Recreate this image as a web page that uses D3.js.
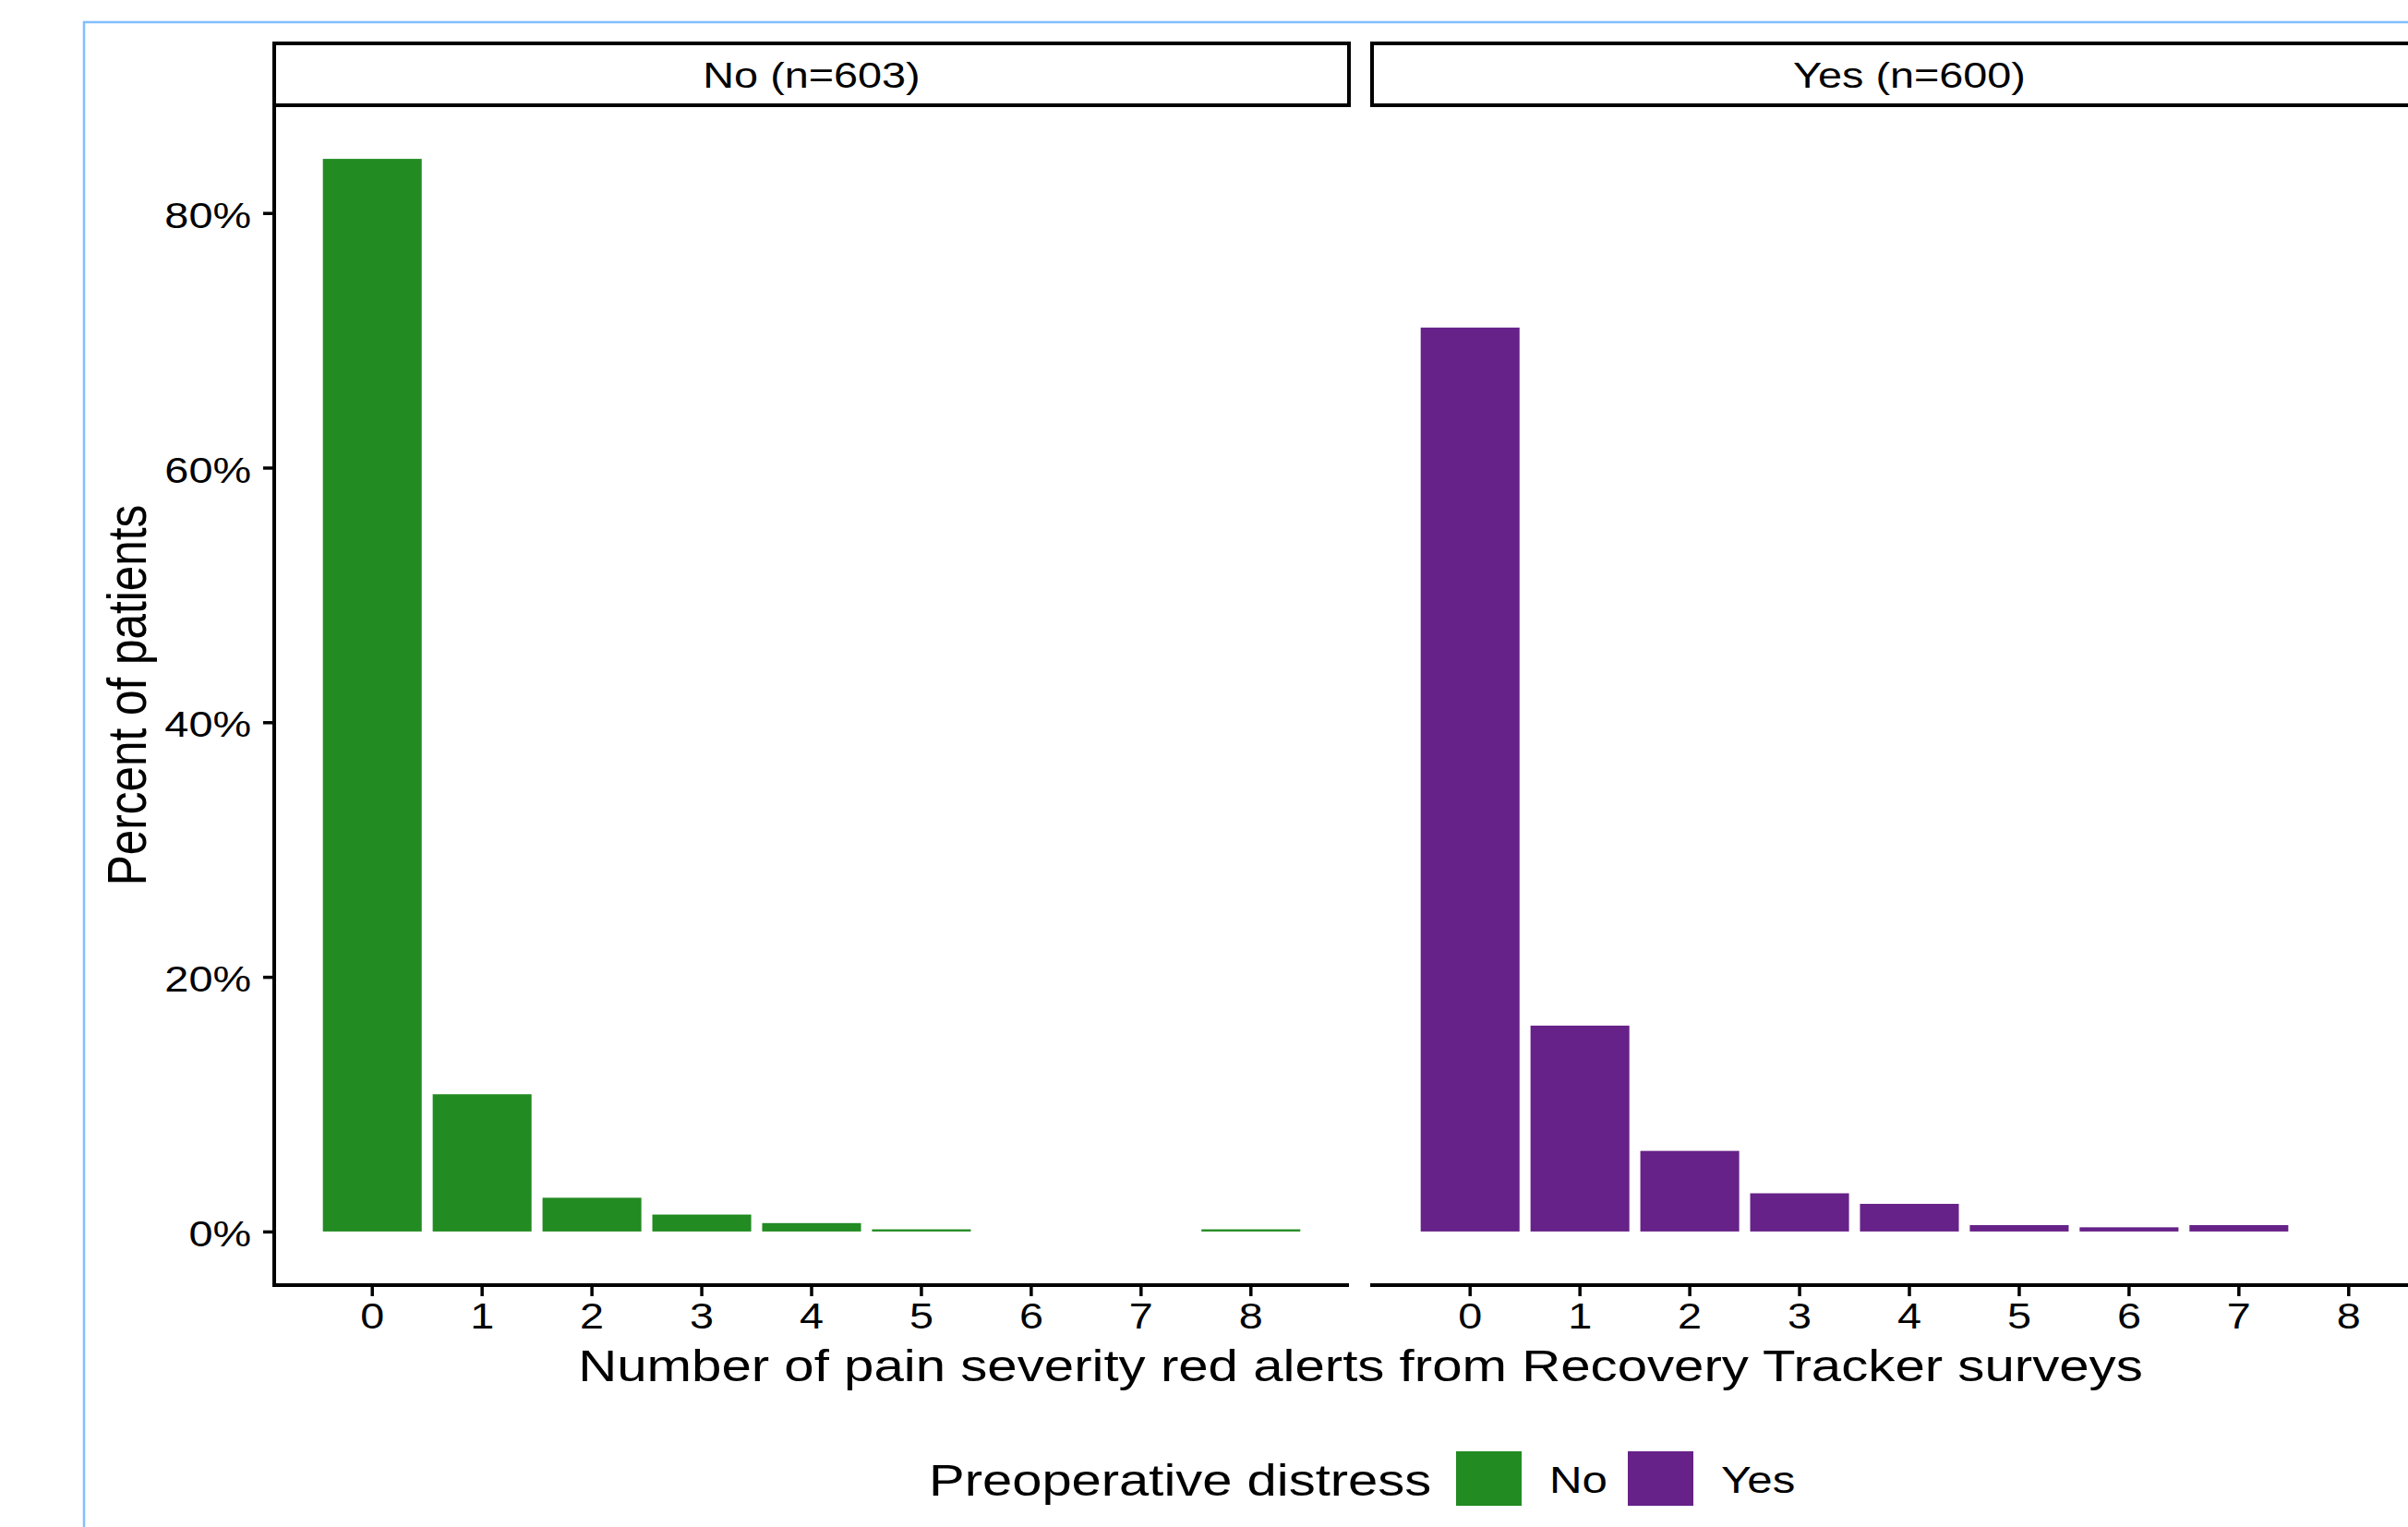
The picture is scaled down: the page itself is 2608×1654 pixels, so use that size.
<!DOCTYPE html>
<html>
<head>
<meta charset="utf-8">
<script src="https://cdn.jsdelivr.net/npm/d3@7"></script>
<style>
  body { margin: 0; background: #fff; }
  svg text { font-family: "Liberation Sans", Arial, sans-serif; fill: #000; }
</style>
</head>
<body>
<div id="chart"></div>
<script>
// data (percent of patients)
const alerts = ["0", "1", "2", "3", "4", "5", "6", "7", "8"];
const groups = ["No", "Yes"];
const stripLabels = ["No (n=603)", "Yes (n=600)"];
const pctNo = [84.25, 10.78, 2.65, 1.33, 0.66, 0.17, 0, 0, 0.17];
const pctYes = [71.0, 16.17, 6.33, 3.0, 2.17, 0.5, 0.33, 0.5, 0];
const yTicks = [0, 20, 40, 60, 80];
const colors = ["#228B22", "#662288"];

const width = 2608;
const height = 1654;
const SX = 1.2; // text in the reference is drawn a bit wide

const svg = d3.select("#chart")
    .append("svg")
    .attr("width", width)
    .attr("height", height);

svg.append("rect")
    .attr("width", width)
    .attr("height", height)
    .attr("fill", "#fff");

// light blue frame (cut off at right / bottom)
svg.append("rect")
    .attr("x", 91)
    .attr("y", 24)
    .attr("width", 4000)
    .attr("height", 4000)
    .attr("fill", "none")
    .attr("stroke", "#80bfff")
    .attr("stroke-width", 2.5);

const panelTop = 114;
const panelBottom = 1392;
const stripTop = 47;
const panelW = 1164;
const panelX = [297, 1486];

const yMax = d3.max(pctNo.concat(pctYes));
const y = d3.scaleLinear()
    .domain([-0.05 * yMax, 1.05 * yMax])
    .range([panelBottom, panelTop]);

function wideText(sel) {
    sel.each(function () {
        const t = d3.select(this);
        const x = +t.attr("x") || 0;
        t.attr("x", x / SX).attr("transform", `scale(${SX},1)`);
    });
}

const series = [pctNo, pctYes];

series.forEach((vals, i) => {
    const left = panelX[i];
    const x = d3.scaleBand()
        .domain(alerts)
        .range([left, left + panelW])
        .paddingInner(0.1)
        .paddingOuter(0.443);

    const g = svg.append("g");

    // strip
    g.append("rect")
        .attr("x", left)
        .attr("y", stripTop)
        .attr("width", panelW)
        .attr("height", panelTop - stripTop)
        .attr("fill", "#fff")
        .attr("stroke", "#000")
        .attr("stroke-width", 4);

    g.append("g")
        .attr("transform", `translate(${left + panelW / 2},95) scale(${SX},1)`)
        .append("text")
        .attr("text-anchor", "middle")
        .style("font-size", "39px")
        .text(stripLabels[i]);

    // bars
    g.selectAll(".bar")
        .data(vals.map((v, k) => ({ k: alerts[k], v: v })))
        .enter()
        .append("rect")
        .attr("class", "bar")
        .attr("x", d => x(d.k))
        .attr("y", d => y(d.v))
        .attr("width", x.bandwidth())
        .attr("height", d => y(0) - y(d.v))
        .attr("fill", colors[i]);

    // x axis
    const xa = g.append("g")
        .attr("transform", `translate(0,${panelBottom})`)
        .call(d3.axisBottom(x).tickSize(12).tickPadding(7).tickSizeOuter(0));
    xa.select(".domain")
        .attr("stroke-width", 4)
        .attr("d", `M${left - 2},0H${left + panelW}`);
    xa.selectAll(".tick line").attr("stroke-width", 3.5);
    xa.selectAll(".tick text")
        .style("font-size", "39px")
        .attr("dy", "0.72em")
        .call(wideText);

    // y axis only on the first panel
    if (i === 0) {
        const ya = g.append("g")
            .attr("transform", `translate(${left},0)`)
            .call(d3.axisLeft(y).tickValues(yTicks).tickFormat(d => d + "%")
                .tickSize(12).tickPadding(13).tickSizeOuter(0));
        ya.select(".domain")
            .attr("stroke-width", 4)
            .attr("d", `M0,${panelTop}V${panelBottom + 2}`);
        ya.selectAll(".tick line").attr("stroke-width", 3.5);
        ya.selectAll(".tick text")
            .style("font-size", "39px")
            .attr("dy", "0.4em")
            .call(wideText);
    }
});

// axis titles
svg.append("g")
    .attr("transform", `translate(${(panelX[0] + panelX[1] + panelW) / 2},1496) scale(${SX},1)`)
    .append("text")
    .attr("text-anchor", "middle")
    .style("font-size", "48.5px")
    .text("Number of pain severity red alerts from Recovery Tracker surveys");

svg.append("g")
    .attr("transform", `translate(158,${(panelTop + panelBottom) / 2}) rotate(-90) scale(1,${SX})`)
    .append("text")
    .attr("text-anchor", "middle")
    .style("font-size", "49.5px")
    .text("Percent of patients");

// legend
const legend = svg.append("g");
legend.append("g")
    .attr("transform", `translate(1006,1620) scale(${SX},1)`)
    .append("text")
    .style("font-size", "48.3px")
    .text("Preoperative distress");

const keyX = [1577, 1763];
groups.forEach((grp, i) => {
    legend.append("rect")
        .attr("x", keyX[i])
        .attr("y", 1572)
        .attr("width", 71)
        .attr("height", 59)
        .attr("fill", colors[i]);
    legend.append("g")
        .attr("transform", `translate(${keyX[i] + 101},1617) scale(${SX},1)`)
        .append("text")
        .style("font-size", "41px")
        .text(grp);
});
</script>
</body>
</html>
